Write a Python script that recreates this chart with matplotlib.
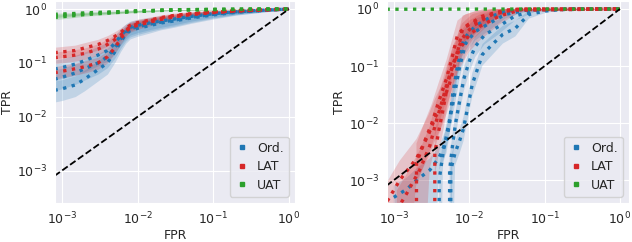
import numpy as np
import matplotlib
matplotlib.use("Agg")
import matplotlib.pyplot as plt
from matplotlib.lines import Line2D
import seaborn as sns

sns.set_style("darkgrid")
plt.rcParams['font.family'] = ['DejaVu Sans']
plt.rcParams['font.size'] = 9

C_ORD = "#1f77b4"
C_LAT = "#d62728"
C_UAT = "#2ca02c"
labels = ["Ord.", "LAT", "UAT"]

# ---------------- Left panel data ----------------
left_fpr = [8e-4, 1e-3, 1.5e-3, 2e-3, 3e-3, 4e-3, 5e-3, 6e-3, 7e-3, 8e-3, 1e-2,
            1.5e-2, 2e-2, 3e-2, 5e-2, 0.1, 0.2, 0.5, 1.0]
left_ord = [
    [0.031, 0.033, 0.039, 0.050, 0.075, 0.10, 0.16, 0.25, 0.34, 0.40, 0.44, 0.50, 0.55, 0.60, 0.68, 0.78, 0.87, 0.95, 1.0],
    [0.050, 0.054, 0.065, 0.078, 0.10, 0.13, 0.19, 0.28, 0.37, 0.43, 0.47, 0.53, 0.57, 0.62, 0.70, 0.80, 0.88, 0.95, 1.0],
    [0.077, 0.082, 0.095, 0.11, 0.14, 0.17, 0.23, 0.32, 0.40, 0.46, 0.50, 0.56, 0.60, 0.65, 0.73, 0.82, 0.89, 0.96, 1.0],
]
left_lat = [
    [0.066, 0.070, 0.078, 0.085, 0.10, 0.13, 0.19, 0.28, 0.38, 0.45, 0.50, 0.58, 0.64, 0.72, 0.79, 0.86, 0.92, 0.97, 1.0],
    [0.125, 0.13, 0.14, 0.15, 0.18, 0.22, 0.27, 0.33, 0.40, 0.47, 0.53, 0.61, 0.67, 0.74, 0.81, 0.87, 0.93, 0.97, 1.0],
    [0.155, 0.16, 0.17, 0.19, 0.22, 0.26, 0.31, 0.37, 0.44, 0.50, 0.56, 0.63, 0.69, 0.76, 0.82, 0.88, 0.93, 0.97, 1.0],
]
left_uat = [
    [0.70, 0.72, 0.76, 0.79, 0.82, 0.84, 0.86, 0.87, 0.88, 0.89, 0.90, 0.92, 0.94, 0.96, 0.97, 0.98, 0.99, 1.0, 1.0],
    [0.75, 0.77, 0.80, 0.82, 0.84, 0.86, 0.87, 0.88, 0.89, 0.90, 0.92, 0.93, 0.95, 0.96, 0.97, 0.98, 0.99, 1.0, 1.0],
    [0.80, 0.81, 0.83, 0.85, 0.87, 0.88, 0.89, 0.90, 0.91, 0.92, 0.93, 0.94, 0.96, 0.97, 0.98, 0.99, 0.99, 1.0, 1.0],
]

# ---------------- Right panel data ----------------
right_ord_fpr = [
    [1.0e-3, 1.5e-3, 2e-3, 3e-3, 4e-3, 5e-3, 5.5e-3, 6e-3, 7e-3, 8.5e-3, 1.2e-2, 2e-2, 3e-2, 5e-2, 1.0],
    [4e-3, 4e-3, 4.5e-3, 5.2e-3, 6e-3, 6.8e-3, 7.5e-3, 9e-3, 1.2e-2, 1.8e-2, 3e-2, 6e-2, 1.0],
    [5.5e-3, 5.5e-3, 6e-3, 6.6e-3, 7.5e-3, 8.5e-3, 1e-2, 1.2e-2, 1.6e-2, 2.5e-2, 4e-2, 8e-2, 1.0],
    [5.7e-3, 5.7e-3, 6.5e-3, 7.5e-3, 8.4e-3, 1.1e-2, 1.5e-2, 2.1e-2, 2.8e-2, 4.1e-2, 6.2e-2, 0.1, 0.2, 1.0],
]
right_ord_tpr = [
    [5e-4, 7e-4, 1e-3, 1.5e-3, 2.5e-3, 5e-3, 0.01, 0.03, 0.10, 0.30, 0.50, 0.75, 0.90, 0.98, 1.0],
    [3e-4, 1e-3, 3e-3, 8e-3, 0.02, 0.05, 0.10, 0.25, 0.40, 0.55, 0.80, 0.97, 1.0],
    [3e-4, 1.5e-3, 4e-3, 0.01, 0.025, 0.06, 0.12, 0.22, 0.35, 0.50, 0.75, 0.97, 1.0],
    [3e-4, 1.5e-3, 3e-3, 5e-3, 8e-3, 0.048, 0.16, 0.25, 0.36, 0.46, 0.80, 0.92, 1.0, 1.0],
]
right_lat_fpr = [
    [8.2e-4, 1.2e-3, 2e-3, 2.9e-3, 3.5e-3, 4.5e-3, 5.5e-3, 6.6e-3, 8.2e-3, 1.2e-2, 2e-2, 3e-2, 5e-2, 1.0],
    [2e-3, 2e-3, 2.6e-3, 3.2e-3, 4e-3, 5e-3, 6e-3, 7e-3, 9e-3, 1.5e-2, 3e-2, 1.0],
    [1.1e-3, 1.5e-3, 2.2e-3, 3e-3, 3.6e-3, 4.2e-3, 5e-3, 6e-3, 8e-3, 1.1e-2, 2e-2, 4e-2, 1.0],
    [3.5e-3, 3.5e-3, 4e-3, 4.6e-3, 5.2e-3, 6e-3, 7.5e-3, 1e-2, 1.4e-2, 2.5e-2, 5e-2, 1.0],
]
right_lat_tpr = [
    [4.3e-4, 1e-3, 2.4e-3, 6.4e-3, 0.012, 0.024, 0.05, 0.12, 0.46, 0.60, 0.80, 0.95, 1.0, 1.0],
    [3e-4, 2e-3, 5e-3, 0.01, 0.025, 0.06, 0.15, 0.35, 0.50, 0.75, 0.95, 1.0],
    [3e-4, 6e-4, 1.5e-3, 4e-3, 0.01, 0.02, 0.045, 0.10, 0.30, 0.50, 0.80, 0.98, 1.0],
    [3e-4, 3e-3, 8e-3, 0.02, 0.05, 0.10, 0.20, 0.35, 0.50, 0.75, 0.98, 1.0],
]
right_uat_fpr = [8e-4, 1e-3, 1e-2, 0.1, 1.0]
right_uat_tpr = [0.99, 0.99, 0.995, 1.0, 1.0]

W, H = 632, 242
fig = plt.figure(figsize=(W / 100, H / 100), dpi=100)
axL = fig.add_axes([55 / W, (H - 203) / H, 240 / W, 202 / H])
axR = fig.add_axes([387 / W, (H - 203) / H, 242 / W, 202 / H])

LW = 2.4


def band(ax, x, y, color, lo_f=0.6, hi_f=1.6, floor=None):
    x = np.asarray(x)
    y = np.asarray(y)
    k = np.clip(1.0 - y, 0, 1) ** 0.7
    lo = y * lo_f ** k
    hi = np.minimum(y * hi_f ** k, 1.0)
    if floor is not None:
        lo = np.where(y < floor, 1e-6, lo)
    ax.fill_between(x, lo, hi, color=color, alpha=0.2, lw=0)
    ax.plot(x, y, ls=':', lw=LW, color=color)


for y in left_ord:
    band(axL, left_fpr, y, C_ORD, 0.6, 1.5)
for y in left_lat:
    band(axL, left_fpr, y, C_LAT, 0.75, 1.3)
for y in left_uat:
    band(axL, left_fpr, y, C_UAT, 0.8, 1.15)
axL.plot([8e-4, 1.0], [8e-4, 1.0], ls='--', color='black', lw=1.3)
axL.set_xlim(10 ** -3.09, 10 ** 0.08)
axL.set_ylim(10 ** -3.6, 10 ** 0.15)

for x, y in zip(right_ord_fpr, right_ord_tpr):
    band(axR, x, y, C_ORD, 0.6, 1.6, floor=2e-3)
for x, y in zip(right_lat_fpr, right_lat_tpr):
    band(axR, x, y, C_LAT, 0.4, 2.2, floor=2e-3)
axR.plot(right_uat_fpr, right_uat_tpr, ls=':', lw=LW, color=C_UAT)
axR.plot([8e-4, 1.0], [8e-4, 1.0], ls='--', color='black', lw=1.3)
axR.set_xlim(10 ** -3.09, 10 ** 0.12)
axR.set_ylim(10 ** -3.4, 10 ** 0.14)

handles = [Line2D([], [], ls='none', marker='s', ms=3, color=c) for c in (C_ORD, C_LAT, C_UAT)]
for ax in (axL, axR):
    ax.set_xscale('log')
    ax.set_yscale('log')
    ax.set_xlabel('FPR', labelpad=1)
    ax.set_ylabel('TPR', labelpad=2)
    ax.tick_params(labelsize=9, pad=2)
    ax.minorticks_off()
    ax.set_xticks([1e-3, 1e-2, 1e-1, 1e0])
    ax.set_yticks([1e-3, 1e-2, 1e-1, 1e0])
    ax.legend(handles, labels, loc='lower right', fontsize=9, handlelength=1.2,
              handletextpad=0.6, borderpad=0.4, labelspacing=0.45)

fig.savefig('out.png', dpi=100)
